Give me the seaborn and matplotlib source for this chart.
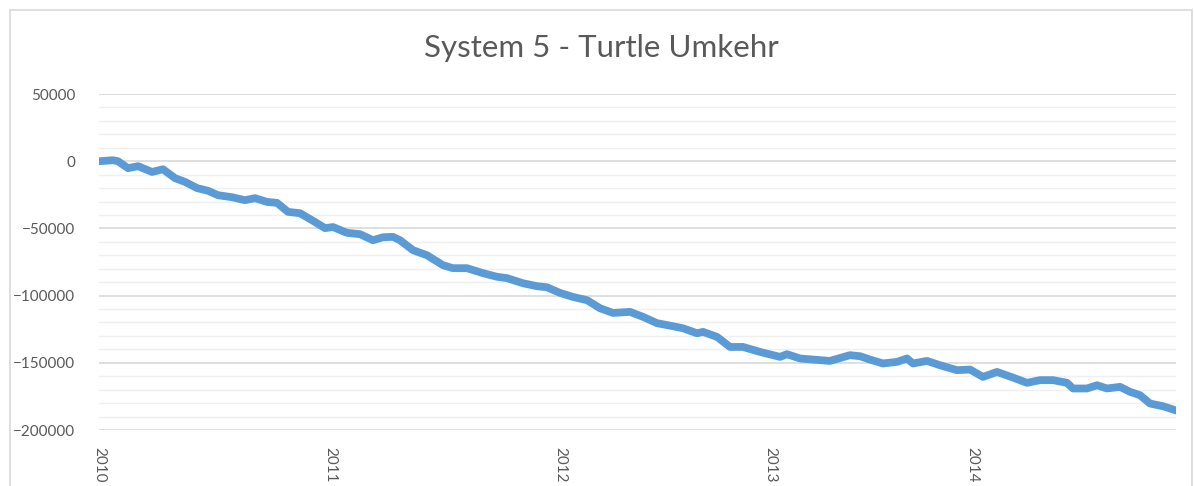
import matplotlib
matplotlib.use("Agg")
import matplotlib.pyplot as plt
from matplotlib.lines import Line2D
from matplotlib.ticker import MultipleLocator, FixedLocator, FixedFormatter
import numpy as np
import pandas as pd
import seaborn as sns

# Equity curve of the strategy (period index -> cumulative P/L)
period = [0, 14, 19, 29, 39, 53, 64, 76, 86, 98, 109, 119, 133, 146, 156, 168, 178,
          189, 201, 213, 226, 234, 248, 261, 274, 284, 294, 301, 314, 328, 344, 354,
          368, 384, 398, 408, 424, 438, 448, 461, 474, 488, 501, 514, 531, 544, 558,
          574, 584, 598, 604, 618, 631, 644, 661, 681, 688, 701, 714, 731, 751, 761,
          771, 784, 798, 808, 814, 828, 841, 858, 871, 884, 898, 914, 928, 941, 954,
          968, 974, 988, 998, 1008, 1021, 1031, 1041, 1051, 1064, 1074, 1077]
equity = [0, 700, 0, -5200, -3700, -8000, -6000, -12600, -15400, -20000, -22000,
          -25300, -26800, -29000, -27500, -30300, -31000, -37700, -38700, -43900,
          -49800, -49000, -53300, -54300, -58800, -56600, -56300, -58800, -66200,
          -70000, -77400, -79600, -79600, -83300, -86000, -87000, -90800, -93000,
          -93800, -98000, -101000, -103400, -109400, -112900, -112100, -115800,
          -120500, -122800, -124300, -128000, -127000, -130700, -138200, -138200,
          -141900, -145600, -143600, -146800, -147600, -148600, -144300, -145100,
          -147600, -150500, -149300, -146800, -150500, -148600, -151800, -155500,
          -155000, -160500, -156800, -161000, -164900, -162900, -162900, -164900,
          -169100, -169100, -166700, -169100, -167900, -171600, -174100, -180300,
          -182300, -184700, -185500]

# Year labels on the category axis
year_labels = ["2010", "2011", "2012", "2013", "2014"]
year_start = [0, 231, 461, 671, 873]

title = "System 5 - Turtle Umkehr"

df = pd.DataFrame({"period": period, "equity": equity})

sns.set_theme(style="white")
plt.rcParams["font.family"] = ["Lato", "DejaVu Sans"]

fig = plt.figure(figsize=(11.94, 4.86), dpi=100)
ax = fig.add_axes([99 / 1194, 1 - 430 / 486, (1176 - 99) / 1194, (430 - 94) / 486])

# gridlines: light minor every 10000, stronger major every 50000
ax.yaxis.set_major_locator(MultipleLocator(50000))
ax.yaxis.set_minor_locator(MultipleLocator(10000))
ax.grid(which="minor", axis="y", color="#efefef", linewidth=1.0)
ax.grid(which="major", axis="y", color="#d9d9d9", linewidth=1.2)
ax.set_axisbelow(True)

sns.lineplot(data=df, x="period", y="equity", ax=ax, color="#5b9bd5",
             linewidth=5.6, solid_capstyle="round", solid_joinstyle="round")

ax.set_xlim(0, 1077)
ax.set_ylim(-200000, 50000)
for s in ax.spines.values():
    s.set_visible(False)

ax.xaxis.set_major_locator(FixedLocator(year_start))
ax.xaxis.set_major_formatter(FixedFormatter(year_labels))
ax.tick_params(axis="x", which="both", length=0, pad=12, labelsize=11,
               labelcolor="#595959", labelrotation=-90)
for lab in ax.get_xticklabels():
    lab.set_verticalalignment("top")
ax.tick_params(axis="y", which="both", length=0, pad=17, labelsize=11,
               labelcolor="#595959")
ax.set_xlabel("")
ax.set_ylabel("")

fig.text(601 / 1194, 1 - 48 / 486, title, ha="center", va="center",
         fontsize=22.5, color="#595959")

# chart-area frame
frame_kw = dict(color="#d9d9d9", linewidth=1.2, transform=fig.transFigure)
fig.add_artist(Line2D([10 / 1194, 1192 / 1194], [1 - 10 / 486, 1 - 10 / 486], **frame_kw))
fig.add_artist(Line2D([10 / 1194, 10 / 1194], [0, 1 - 10 / 486], **frame_kw))
fig.add_artist(Line2D([1192 / 1194, 1192 / 1194], [0, 1 - 10 / 486], **frame_kw))

fig.savefig("out.png", dpi=100, facecolor="white")
